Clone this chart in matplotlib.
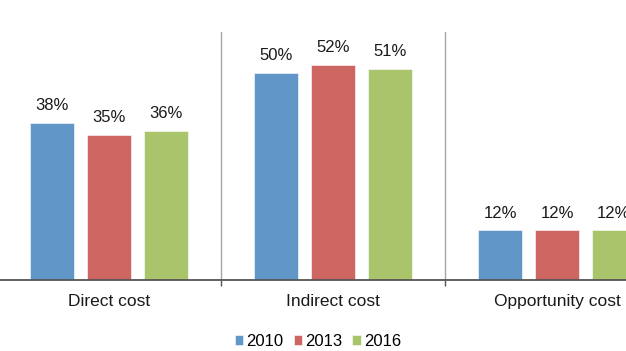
import matplotlib

matplotlib.use("Agg")
import matplotlib.pyplot as plt
import numpy as np

plt.rcParams["font.family"] = ["Liberation Sans", "DejaVu Sans"]

categories = ["Direct cost", "Indirect cost", "Opportunity cost"]
years = ["2010", "2013", "2016"]
values_2010 = [38, 50, 12]
values_2013 = [35, 52, 12]
values_2016 = [36, 51, 12]
colors = ["#6096C8", "#CD6660", "#AAC46C"]

fig = plt.figure(figsize=(6.26, 3.51), dpi=100)
ax = fig.add_axes([0, 0.2023, 1, 0.7077])

x = np.arange(len(categories))
width = 0.196
step = 0.254
series = [values_2010, values_2013, values_2016]
for i, (year, vals, color) in enumerate(zip(years, series, colors)):
    pos = x + (i - 1) * step
    bars = ax.bar(pos, vals, width, color=color, label=year,
                  edgecolor="#ffffff", linewidth=0.4, zorder=2)
    for b, v in zip(bars, vals):
        ax.annotate(f"{v}%", (b.get_x() + b.get_width() / 2, v),
                    xytext=(0, 7), textcoords="offset points",
                    ha="center", va="bottom", fontsize=12, color="#1a1a1a")

ax.set_xlim(-0.487, 2.308)
ax.set_ylim(0, 60)

# group separators
for sep in [0.5, 1.5]:
    ax.axvline(sep, color="#a6a6a6", linewidth=1, zorder=1)
ax.set_xticks([0.5, 1.5], minor=True)
ax.tick_params(axis="x", which="minor", length=4, width=1, color="#555555")

ax.set_xticks(x)
ax.set_xticklabels(categories, fontsize=12.5, color="#1a1a1a")
ax.tick_params(axis="x", which="major", length=0, pad=10)
ax.set_yticks([])
for side in ["top", "right", "left"]:
    ax.spines[side].set_visible(False)
ax.spines["bottom"].set_color("#555555")
ax.spines["bottom"].set_linewidth(1.3)

fig.legend(loc="center", bbox_to_anchor=(318 / 626, 0.027), ncol=3,
           frameon=False, fontsize=12, handlelength=0.5, handleheight=0.5,
           handletextpad=0.2, columnspacing=0.6, borderaxespad=0)

fig.savefig("out.png", dpi=100)
